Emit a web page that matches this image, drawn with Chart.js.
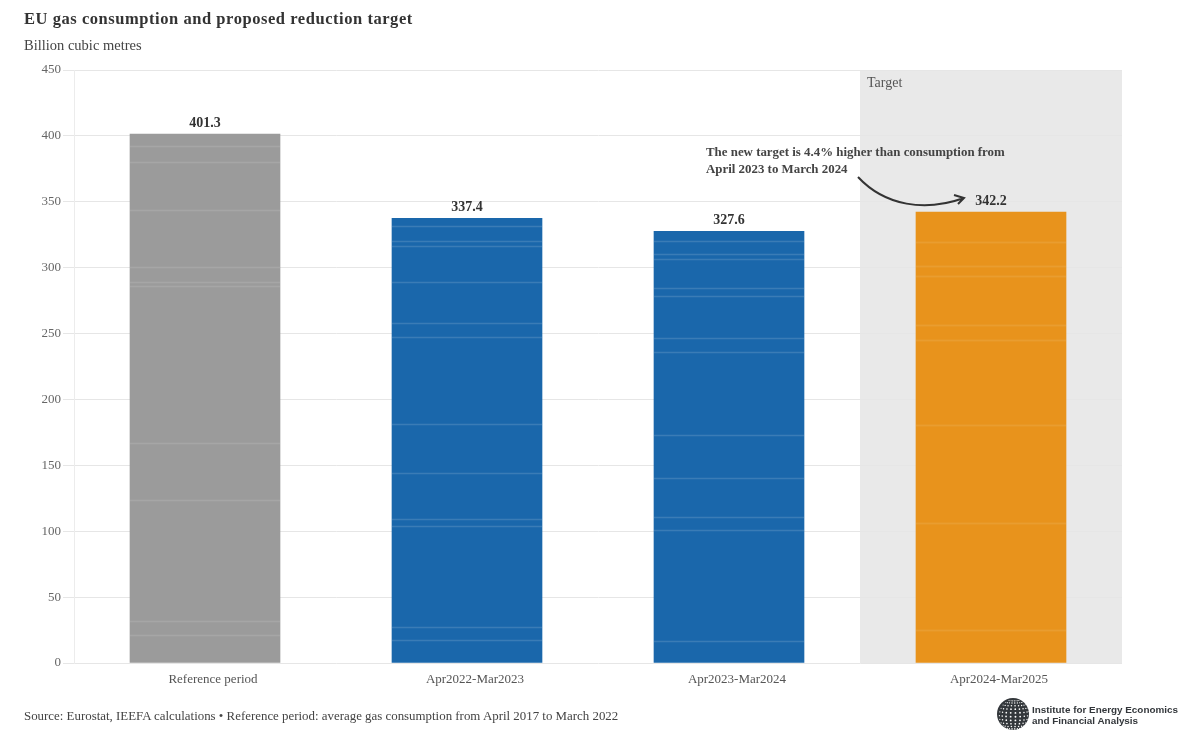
<!DOCTYPE html>
<html>
<head>
<meta charset="utf-8">
<title>EU gas consumption and proposed reduction target</title>
<script src="https://cdn.jsdelivr.net/npm/chart.js@4"></script>
<style>
  html, body { margin: 0; padding: 0; background: #fff; }
  #wrap { position: relative; width: 1200px; height: 747px; overflow: hidden; font-family: "Liberation Serif", serif; }
  #wrap div { position: absolute; white-space: nowrap; }
  canvas { position: absolute; left: 0; top: 0; }
  #title { left: 24px; top: 9px; font-size: 16.5px; font-weight: bold; color: #333; letter-spacing: 0.55px; }
  #unit { left: 24px; top: 37px; font-size: 14.5px; color: #444; }
  #source { left: 24px; top: 709px; font-size: 12.9px; color: #444; }
  #logo { left: 1032px; top: 704px; font-family: "Liberation Sans", sans-serif; font-size: 9.9px; font-weight: bold; line-height: 11px; color: #33373b; }
</style>
</head>
<body>
<div id="wrap">
  <canvas id="chart" width="1200" height="747"></canvas>
  <div id="title">EU gas consumption and proposed reduction target</div>
  <div id="unit">Billion cubic metres</div>
  <div id="source">Source: Eurostat, IEEFA calculations • Reference period: average gas consumption from April 2017 to March 2022</div>
  <div id="logo">Institute for Energy Economics<br>and Financial Analysis</div>
</div>
<script>
// values
const categories = ['Reference period', 'Apr2022-Mar2023', 'Apr2023-Mar2024', 'Apr2024-Mar2025'];
const consumption = [401.3, 337.4, 327.6, 342.2];
const barColors = ['#9b9b9b', '#1a67ab', '#1a67ab', '#e8931c'];
const yTicks = [0, 50, 100, 150, 200, 250, 300, 350, 400, 450];
const targetLabel = 'Target';
const noteLines = ['The new target is 4.4% higher than consumption from', 'April 2023 to March 2024'];

// the pale streaks that run across each bar, at these heights
const streaksRef = [392.3, 380, 343.8, 300.5, 289, 286, 167, 123.7, 32, 21];
const streaksBlue1 = [331.6, 320.2, 316.4, 289, 258, 247.4, 181.4, 144.2, 109.3, 104, 27.3, 17.5];
const streaksBlue2 = [320.2, 310.4, 306.6, 284.6, 278.5, 246.6, 236, 173, 140.4, 110.8, 100.9, 16.7];
const streaksTarget = [319.5, 301.3, 293.7, 256.5, 245.1, 180.6, 106.2, 25];
const streaks = [streaksRef, streaksBlue1, streaksBlue2, streaksTarget];
const streakAlpha = [0.09, 0.11, 0.11, 0.06];

const serif = '"Liberation Serif", serif';

// grey band behind the target bar
const targetBand = {
  id: 'targetBand',
  beforeDraw(chart) {
    const { ctx, chartArea, scales } = chart;
    const left = scales.x.getPixelForValue(3) - (scales.x.getPixelForValue(3) - scales.x.getPixelForValue(2)) / 2;
    ctx.save();
    ctx.fillStyle = '#e9e9e9';
    ctx.fillRect(left, chartArea.top, chartArea.right - left, chartArea.bottom - chartArea.top);
    ctx.restore();
  }
};

// streaks, value labels, note and arrow
const overlay = {
  id: 'overlay',
  afterDatasetsDraw(chart) {
    const { ctx, scales } = chart;
    const bars = chart.getDatasetMeta(0).data;
    ctx.save();

    bars.forEach((bar, i) => {
      streaks[i].forEach(v => {
        const y = Math.round(scales.y.getPixelForValue(v));
        ctx.fillStyle = 'rgba(255,255,255,0.04)';
        ctx.fillRect(bar.x - bar.width / 2, y - 1, bar.width, 3);
        ctx.fillStyle = `rgba(255,255,255,${streakAlpha[i]})`;
        ctx.fillRect(bar.x - bar.width / 2, y, bar.width, 1);
      });
      ctx.font = 'bold 14px ' + serif;
      ctx.fillStyle = '#333';
      ctx.textAlign = 'center';
      ctx.textBaseline = 'middle';
      ctx.fillText(consumption[i].toFixed(1), bar.x, bar.y - 11);
    });

    ctx.textAlign = 'left';
    ctx.font = '14px ' + serif;
    ctx.fillStyle = '#555';
    ctx.fillText(targetLabel, 867, 83);

    ctx.font = 'bold 12.9px ' + serif;
    ctx.fillStyle = '#444';
    ctx.fillText(noteLines[0], 706, 153);
    ctx.fillText(noteLines[1], 706, 170);

    ctx.strokeStyle = '#333';
    ctx.lineWidth = 2;
    ctx.beginPath();
    ctx.moveTo(858, 177);
    ctx.bezierCurveTo(885, 206, 925, 212, 964, 198);
    ctx.moveTo(954, 195);
    ctx.lineTo(964, 198);
    ctx.lineTo(958, 204);
    ctx.stroke();

    drawGlobe(ctx, 1013, 714, 16);
    ctx.restore();
  }
};

// logo globe: dark disc with rows of pale gaps, lighter near the top
function drawGlobe(ctx, cx, cy, r) {
  ctx.fillStyle = '#33373b';
  ctx.beginPath();
  ctx.arc(cx, cy, r, 0, Math.PI * 2);
  ctx.fill();
  ctx.fillStyle = '#fff';
  for (let lat = -70; lat <= 70; lat += 14) {
    for (let lon = -70; lon <= 70; lon += 17.5) {
      const la = lat * Math.PI / 180;
      const lo = (lon + 6) * Math.PI / 180;
      const x = r * Math.cos(la) * Math.sin(lo);
      const y = r * (Math.sin(la) * 0.97 + 0.12 * Math.cos(la) * Math.cos(lo));
      const z = Math.cos(la) * Math.cos(lo);
      ctx.beginPath();
      ctx.arc(cx + x + 0.8, cy + y + 0.8, 0.35 + 0.6 * z, 0, Math.PI * 2);
      ctx.fill();
    }
  }
}

new Chart(document.getElementById('chart'), {
  type: 'bar',
  data: {
    labels: categories,
    datasets: [{
      data: consumption,
      backgroundColor: barColors,
      borderWidth: 0,
      barThickness: 150
    }]
  },
  options: {
    responsive: false,
    animation: false,
    devicePixelRatio: 1,
    layout: { padding: { left: 0, top: 70, right: 78, bottom: 0 } },
    plugins: { legend: { display: false }, tooltip: { enabled: false } },
    scales: {
      x: {
        afterFit(scale) { scale.height = 84; },
        grid: { display: false },
        border: { display: false },
        ticks: { color: '#555', font: { family: serif, size: 13 }, padding: 1, labelOffset: 8, maxRotation: 0 }
      },
      y: {
        min: 0,
        max: 450,
        afterFit(scale) { scale.width = 74; },
        afterBuildTicks(scale) { scale.ticks = yTicks.map(v => ({ value: v })); },
        grid: { color: '#e6e6e6', lineWidth: 1, tickLength: 11 },
        border: { display: true, color: '#ececec' },
        ticks: { color: '#666', font: { family: serif, size: 13 }, padding: 2 }
      }
    }
  },
  plugins: [targetBand, overlay]
});
</script>
</body>
</html>
